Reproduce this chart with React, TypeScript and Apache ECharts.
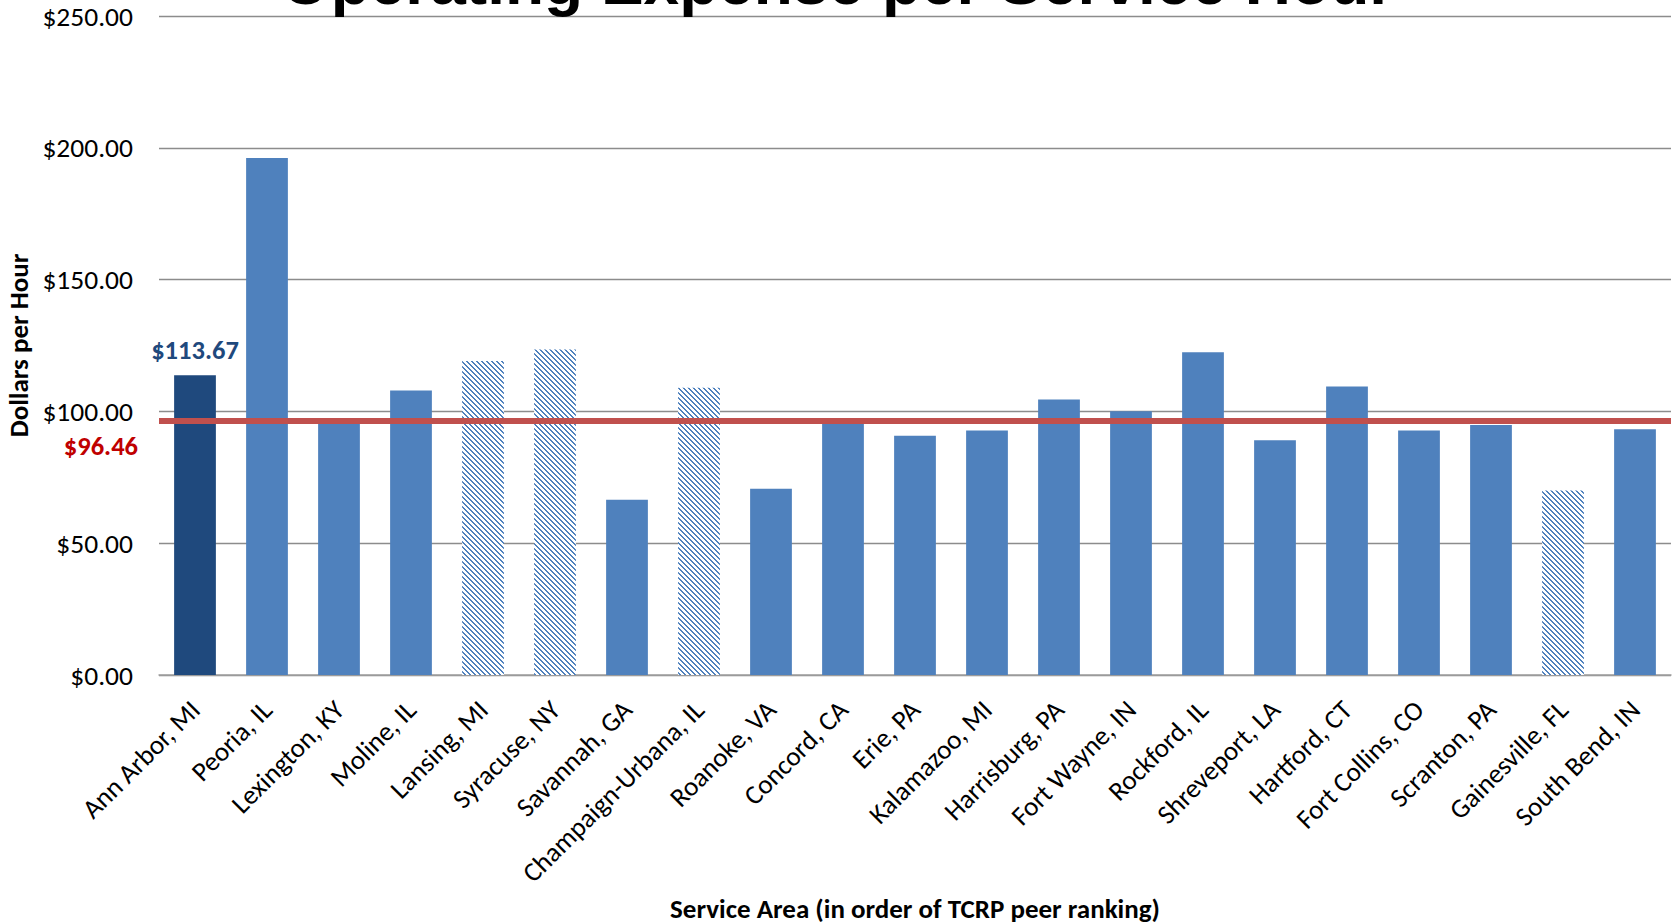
import React, { useEffect, useRef } from "react";
import * as echarts from "echarts";

const categories = [
  "Ann Arbor, MI", "Peoria, IL", "Lexington, KY", "Moline, IL", "Lansing, MI",
  "Syracuse, NY", "Savannah, GA", "Champaign-Urbana, IL", "Roanoke, VA", "Concord, CA",
  "Erie, PA", "Kalamazoo, MI", "Harrisburg, PA", "Fort Wayne, IN", "Rockford, IL",
  "Shreveport, LA", "Hartford, CT", "Fort Collins, CO", "Scranton, PA", "Gainesville, FL",
  "South Bend, IN",
];
const values = [
  113.67, 196.1, 95.9, 107.9, 119.1,
  123.5, 66.5, 109.0, 70.7, 96.8,
  90.8, 92.8, 104.5, 100.1, 122.4,
  89.1, 109.4, 92.8, 94.8, 70.0,
  93.2,
];
const hatched = ["Lansing, MI", "Syracuse, NY", "Champaign-Urbana, IL", "Gainesville, FL"];
const highlighted = "Ann Arbor, MI";
const peerAverage = 96.46;
const yTicks = { min: 0, max: 250, interval: 50 };
const title = "Operating Expense per Service Hour";
const xName = "Service Area (in order of TCRP peer ranking)";
const yName = "Dollars per Hour";

const FONT = "Carlito, 'Open Sans', sans-serif";

export default function App() {
  const ref = useRef<HTMLDivElement>(null);
  useEffect(() => {
    if (!ref.current) return;
    const chart = echarts.init(ref.current, null, { renderer: "svg" });

    const T = 5;
    const cv = document.createElement("canvas");
    cv.width = T;
    cv.height = T;
    const ctx = cv.getContext("2d")!;
    ctx.fillStyle = "#ffffff";
    ctx.fillRect(0, 0, T, T);
    ctx.fillStyle = "#4F81BD";
    for (let i = 0; i < T; i++) {
      ctx.fillRect(i, i, 1, 1);
      ctx.fillRect((i + 1) % T, i, 1, 1);
    }
    const pattern: any = { image: cv, repeat: "repeat", imageWidth: T, imageHeight: T };

    const data = categories.map((c, i) => {
      if (c === highlighted) {
        return {
          value: values[i],
          itemStyle: { color: "#1F497D" },
          label: {
            show: true,
            position: "top",
            distance: 12,
            formatter: (p: any) => "$" + Number(p.value).toFixed(2),
            color: "#1F497D",
            fontWeight: "bold",
            fontSize: 26.5,
            fontFamily: FONT,
          },
        };
      }
      if (hatched.includes(c)) {
        return { value: values[i], itemStyle: { color: pattern } };
      }
      return { value: values[i], itemStyle: { color: "#4F81BD" } };
    });

    chart.setOption({
      animation: false,
      backgroundColor: "#ffffff",
      title: {
        text: title,
        left: "center",
        top: -55,
        textStyle: {
          fontFamily: "'Liberation Sans', Arial, sans-serif",
          fontWeight: "bold",
          fontSize: 64,
          color: "#000000",
        },
      },
      grid: {
        left: 159,
        right: 4,
        top: 16,
        bottom: 249,
        containLabel: false,
        outerBoundsMode: "none",
      },
      xAxis: {
        type: "category",
        data: categories,
        name: xName,
        nameLocation: "middle",
        nameGap: 219,
        nameTextStyle: {
          fontFamily: FONT,
          fontWeight: "bold",
          fontSize: 27,
          lineHeight: 28,
          color: "#000",
        },
        axisLine: { show: true, lineStyle: { color: "#A0A0A0", width: 1.5 } },
        axisTick: { show: false },
        axisLabel: {
          rotate: 45,
          interval: 0,
          align: "right",
          verticalAlign: "middle",
          margin: 30,
          fontFamily: FONT,
          fontSize: 27,
          color: "#000",
        },
      },
      yAxis: {
        type: "value",
        min: yTicks.min,
        max: yTicks.max,
        interval: yTicks.interval,
        name: yName,
        nameLocation: "middle",
        nameRotate: 90,
        nameGap: 121,
        nameTextStyle: { fontFamily: FONT, fontWeight: "bold", fontSize: 27, color: "#000" },
        axisLine: { show: false },
        axisTick: { show: false },
        axisLabel: {
          margin: 26,
          fontFamily: FONT,
          fontSize: 27.5,
          color: "#000",
          formatter: (v: number) => "$" + v.toFixed(2),
        },
        splitLine: { show: true, lineStyle: { color: "#8C8C8C", width: 1.3 } },
      },
      series: [
        {
          type: "bar",
          data,
          barWidth: "58%",
          markLine: {
            silent: true,
            symbol: "none",
            label: { show: false },
            lineStyle: { color: "#C0504D", width: 6, type: "solid" },
            data: [{ yAxis: peerAverage }],
          },
        },
      ],
    });

    const yPix = chart.convertToPixel({ yAxisIndex: 0 }, peerAverage) as number;
    chart.setOption({
      graphic: [
        {
          type: "text",
          x: 138,
          y: yPix + 25,
          style: {
            text: "$" + peerAverage.toFixed(2),
            fill: "#C00000",
            font: "bold 26.5px " + FONT,
            textAlign: "right",
            textVerticalAlign: "middle",
          },
        },
      ],
    });

    return () => chart.dispose();
  }, []);
  return (
    <div
      ref={ref}
      style={{ position: "fixed", left: 0, top: 0, width: 1675, height: 924 }}
    />
  );
}
